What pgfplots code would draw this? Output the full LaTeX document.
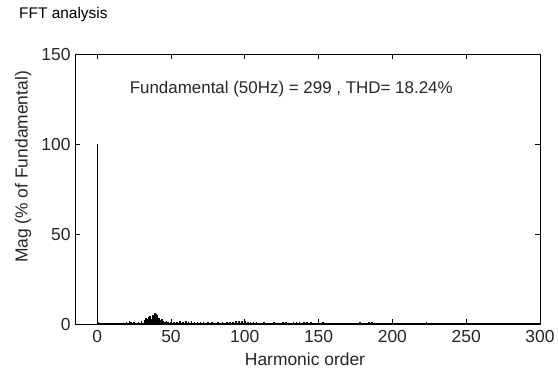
\documentclass[border=0pt]{standalone}
\usepackage{fontspec}
\setmainfont{Liberation Sans}
\usepackage{pgfplots}
\pgfplotsset{compat=1.18}
\begin{document}
\begin{tikzpicture}
\useasboundingbox (0,0) rectangle (558bp,369bp);
\node[anchor=west,inner sep=0pt,font=\fontsize{15.5}{18}\selectfont] at (19bp,354bp) {FFT analysis};
\node[rotate=90,inner sep=0pt,font=\fontsize{17.5}{20}\selectfont, text=black!85] at (23bp,202bp) {Mag (\% of Fundamental)};
\node[inner sep=0pt,font=\fontsize{17.5}{20}\selectfont,anchor=base, text=black!85] at (305bp,4bp) {Harmonic order};
\begin{axis}[
  at={(75bp,44.5bp)}, anchor=south west,
  scale only axis, width=465bp, height=270bp,
  xmin=-15, xmax=300, ymin=0, ymax=150,
  xtick={0,50,100,150,200,250,300},
  ytick={0,50,100,150},
  tick align=inside,
  major tick length=5bp,
  tick style={black, line width=0.6bp},
  axis line style={black, line width=0.8bp},
  ticklabel style={font=\fontsize{17.5}{20}\selectfont, text=black!85},
  /pgf/number format/assume math mode=true,
  xticklabel style={yshift=-2bp},
  yticklabel style={xshift=-1bp},
  clip=true,
]
\addplot[ycomb, black, line width=1bp] coordinates {(0,100)};
\addplot[ycomb, black, line width=1.6bp] coordinates {
(1,1.5)
(20,1.5) (22,2.0) (23,1.6) (25,1.2) (28,1.4) (30,2.0) (32,2.5) (33,3.5)
(34,3.0) (35,4.0) (36,4.5) (37,3.0) (38,5.5) (39,6.5) (40,6.0) (41,5.0)
(42,3.5) (43,2.5) (44,3.0) (45,2.0) (46,1.5) (47,2.0) (48,1.5) (50,1.2)
(52,1.5) (54,1.2) (56,1.8) (58,1.4) (60,2.0) (62,1.5) (64,1.8) (66,1.2)
(68,1.5) (70,1.2) (72,1.6) (75,1.2) (78,1.4) (80,1.1) (82,1.4) (85,1.2)
(88,1.4) (90,1.6) (92,1.4) (94,1.7) (96,1.9) (98,2.2) (100,1.9) (102,1.6)
(104,1.4) (106,1.2) (108,1.4) (110,1.1) (113,1.2) (116,1.0) (120,1.2)
(123,1.0) (126,1.2) (128,1.4) (130,1.1) (133,1.4) (135,1.6) (137,1.2)
(140,1.4) (142,1.2) (145,1.6) (147,1.1) (150,1.0) (153,1.2) (156,1.0)
(160,0.9) (165,0.9) (170,1.1) (175,0.9) (178,1.2) (181,1.0) (184,1.2)
(186,1.4) (188,1.0) (191,1.1) (195,1.0) (200,0.9) (203,1.0) (206,0.9)
(210,0.8) (220,1.0) (223,1.2) (226,1.0) (230,0.9) (240,0.9) (243,1.0)
(246,1.1) (250,0.9) (255,0.8) (260,0.7) (280,0.8) (284,1.0) (287,1.1)
(290,1.0) (293,0.9)
};
\addplot[black, line width=1.6bp] coordinates {(0,0.45) (300,0.45)};
\node[font=\fontsize{17}{20}\selectfont, text=black!85] at (axis cs:131.5,131) {Fundamental (50Hz) = 299 , THD= 18.24\%};
\end{axis}
\end{tikzpicture}
\end{document}
